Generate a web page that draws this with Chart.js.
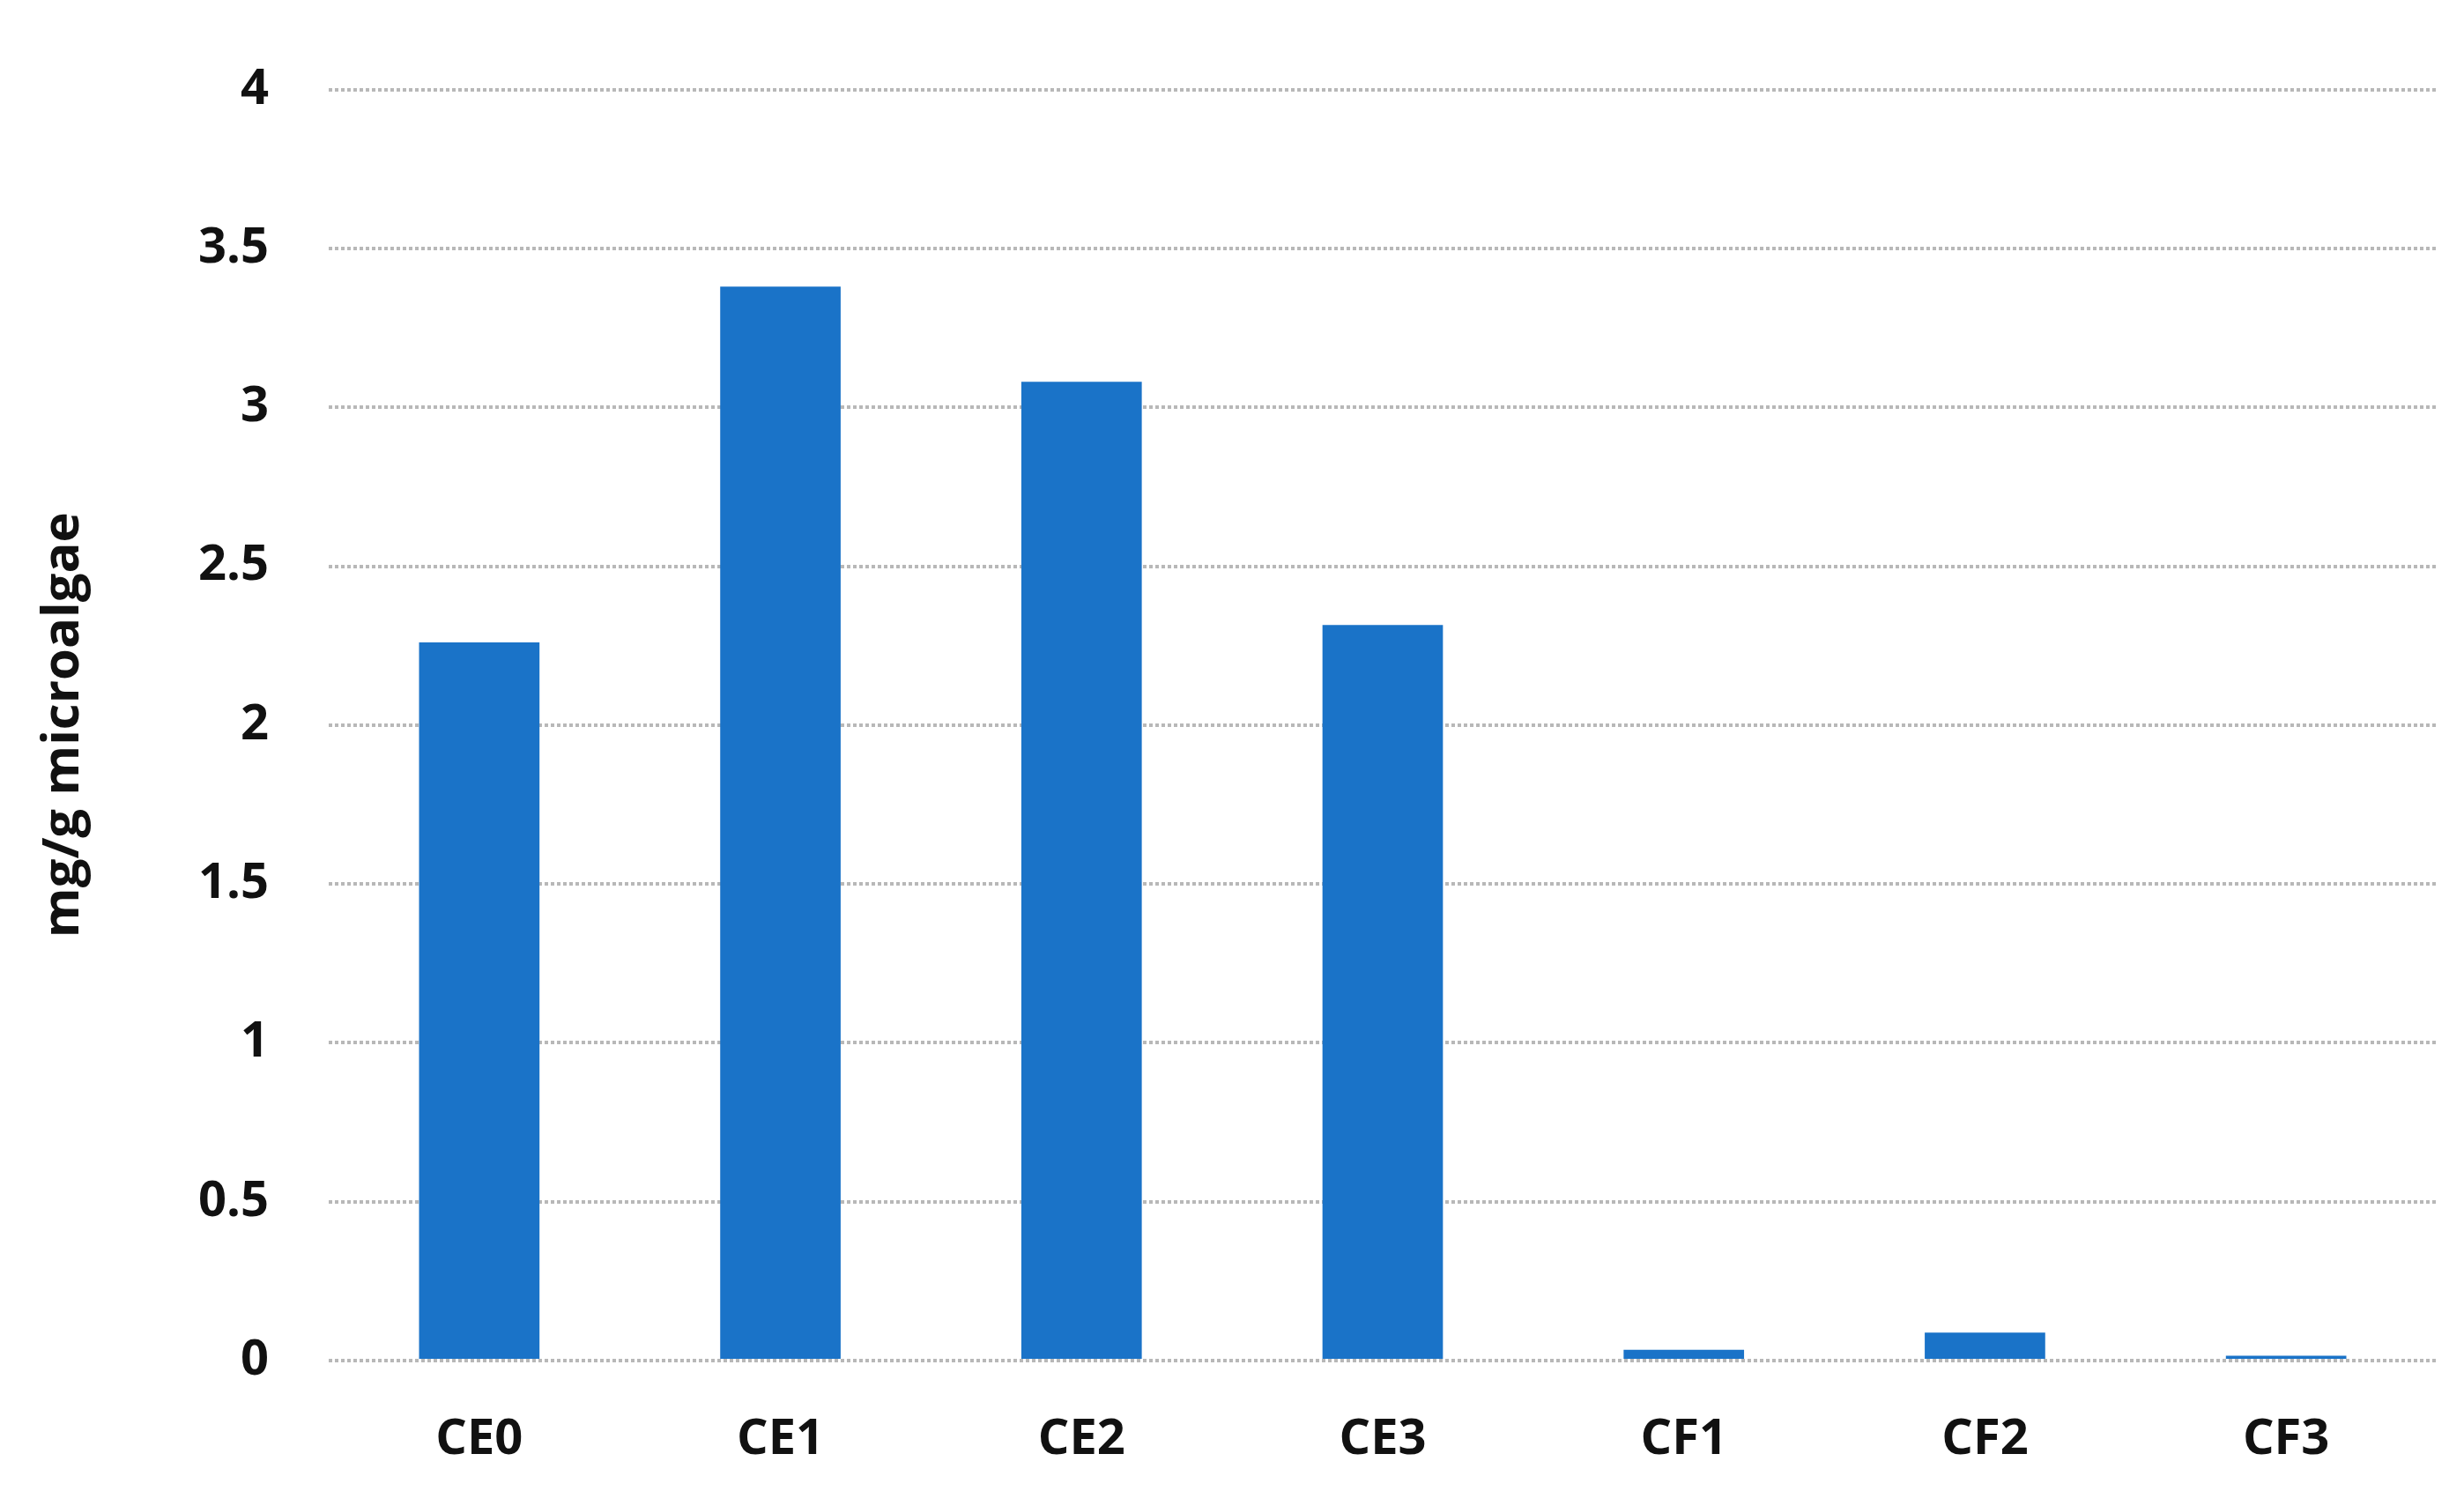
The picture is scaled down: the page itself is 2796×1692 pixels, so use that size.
<!DOCTYPE html>
<html>
<head>
<meta charset="utf-8">
<script src="https://cdn.jsdelivr.net/npm/chart.js@4"></script>
<style>
  html, body { margin: 0; padding: 0; background: #fff; }
  #wrap { width: 2796px; height: 1692px; }
</style>
</head>
<body>
<div id="wrap"><canvas id="barChart"></canvas></div>
<script>
const categories = ['CE0', 'CE1', 'CE2', 'CE3', 'CF1', 'CF2', 'CF3'];
const values = [2.26, 3.38, 3.08, 2.315, 0.034, 0.088, 0.015];
const yTicks = [0, 0.5, 1, 1.5, 2, 2.5, 3, 3.5, 4];
const yTitle = 'mg/g microalgae';

Chart.defaults.font.family = '"Open Sans", "DejaVu Sans", sans-serif';
Chart.defaults.font.weight = 'bold';
Chart.defaults.color = '#111';

new Chart(document.getElementById('barChart'), {
    type: 'bar',
    data: {
        labels: categories,
        datasets: [{ data: values, backgroundColor: '#1a73c8', barPercentage: 0.4, categoryPercentage: 1 }]
    },
    options: {
        responsive: true, maintainAspectRatio: false, animation: false,
        layout: { padding: { left: 38, top: 60, right: 31, bottom: 6 } },
        plugins: { legend: { display: false }, tooltip: { enabled: false } },
        scales: {
            x: {
                grid: { display: false },
                border: { display: false },
                ticks: { font: { size: 56, weight: 'bold' }, padding: 48 },
                afterFit: s => { s.height = 142; }
            },
            y: {
                min: 0, max: 4,
                afterBuildTicks: s => { s.ticks = yTicks.map(v => ({ value: v })); },
                grid: { color: '#b8b8b8', lineWidth: 4, drawTicks: false },
                border: { display: false, dash: [4, 3] },
                ticks: { font: { size: 56, weight: 'bold' }, padding: 68, callback: v => String(v) },
                title: { display: true, text: yTitle, font: { size: 58, weight: 'bold' }, padding: 0 },
                afterFit: s => { s.width = 335; }
            }
        }
    }
});
</script>
</body>
</html>
